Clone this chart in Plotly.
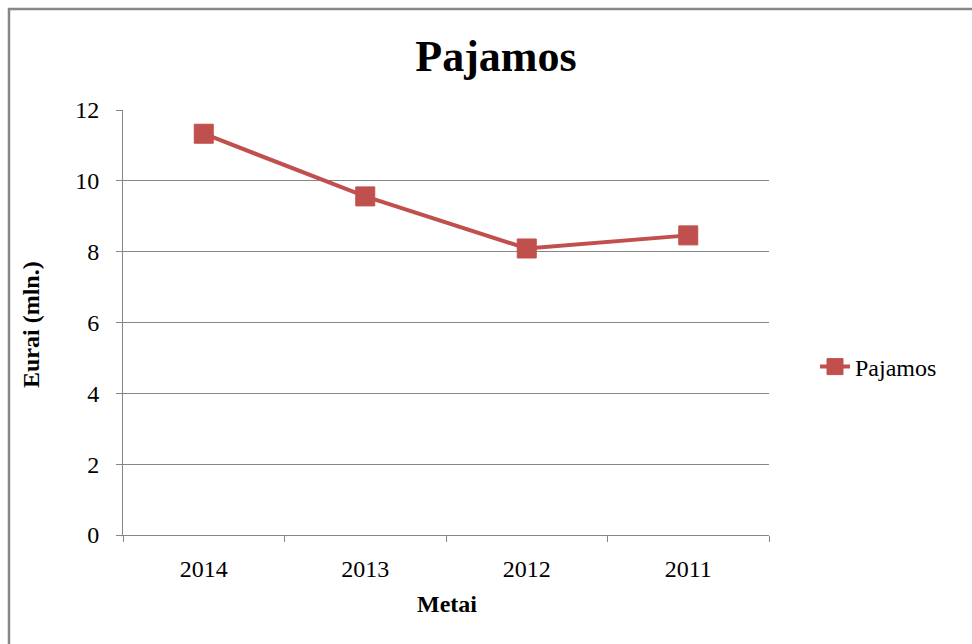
import plotly.graph_objects as go

years = ["2014", "2013", "2012", "2011"]
pajamos = [11.33, 9.56, 8.09, 8.46]
y_ticks = [0, 2, 4, 6, 8, 10, 12]

RED = "#C0504D"
GRAY = "#868686"
FONT = "Liberation Serif, Times New Roman, serif"

L, R, T, B = 123, 203, 110, 109
W, H = 972, 644
pw, ph = W - L - R, H - T - B

def px_x(p):
    return (p - L) / pw

def px_y(p):
    return (H - B - p) / ph

fig = go.Figure()
fig.add_trace(go.Scatter(
    x=years, y=pajamos, name="Pajamos", mode="lines+markers",
    line=dict(color=RED, width=4),
    marker=dict(symbol="square", size=19, color=RED, line=dict(color=RED, width=1)),
))

fig.update_layout(
    width=W, height=H,
    margin=dict(l=L, r=R, t=T, b=B),
    paper_bgcolor="white", plot_bgcolor="white",
    font=dict(family=FONT, color="#000000", size=24),
    title=dict(text="<b>Pajamos</b>", font=dict(family=FONT, size=44, color="#000000"),
               xref="paper", x=px_x(496), xanchor="center",
               yref="container", y=1 - 56 / H, yanchor="middle"),
    showlegend=True,
    legend=dict(x=px_x(815), y=px_y(367), xanchor="left", yanchor="middle",
                font=dict(family=FONT, size=24, color="#000000"),
                bgcolor="rgba(0,0,0,0)"),
    xaxis=dict(type="category", range=[-0.5, 3.5], showgrid=False,
               showline=True, linecolor=GRAY, linewidth=1,
               ticks="outside", ticklen=6, tickcolor=GRAY, tickson="boundaries",
               ticklabelstandoff=12,
               tickfont=dict(family=FONT, size=24, color="#000000"),
               zeroline=False, fixedrange=True),
    yaxis=dict(range=[0, 12], tickvals=y_ticks, showgrid=True, gridcolor=GRAY, gridwidth=1,
               showline=True, linecolor=GRAY, linewidth=1,
               ticks="outside", ticklen=6, tickcolor=GRAY,
               ticklabelstandoff=12,
               tickfont=dict(family=FONT, size=24, color="#000000"),
               zeroline=False, fixedrange=True),
    annotations=[
        dict(text="<b>Metai</b>", xref="paper", yref="paper",
             x=px_x(447), y=px_y(604), xanchor="center", yanchor="middle",
             showarrow=False, font=dict(family=FONT, size=24, color="#000000")),
        dict(text="<b>Eurai (mln.)</b>", xref="paper", yref="paper",
             x=px_x(31), y=px_y(325), xanchor="center", yanchor="middle",
             textangle=-90, showarrow=False,
             font=dict(family=FONT, size=24, color="#000000")),
    ],
    shapes=[
        dict(type="rect", xref="paper", yref="paper",
             x0=px_x(9), x1=px_x(990), y0=px_y(670), y1=px_y(9),
             line=dict(color="#878787", width=2.5), fillcolor="rgba(0,0,0,0)", layer="below"),
    ],
)

fig.write_html("out.html")
